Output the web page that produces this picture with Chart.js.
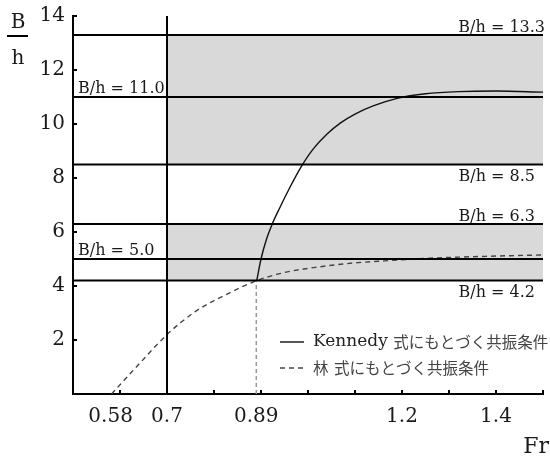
<!DOCTYPE html>
<html lang="ja">
<head>
<meta charset="UTF-8">
<title>共振条件</title>
<script src="https://cdn.jsdelivr.net/npm/chart.js"></script>
<style>
  html, body { margin: 0; padding: 0; background: #fff; }
</style>
</head>
<body>
<canvas id="chart" width="550" height="459"></canvas>
<script>
// 横軸 Fr の目盛
const frLabels = [0.58, 0.7, 0.89, 1.2, 1.4];
const frMinorTicks = [0.6, 0.7, 0.8, 0.9, 1.0, 1.1, 1.2, 1.3, 1.4, 1.5];
// 縦軸 B/h の目盛
const bhTicks = [2, 4, 6, 8, 10, 12, 14];

// B/h の水平線とラベル位置
const bhLevels = [13.3, 11.0, 8.5, 6.3, 5.0, 4.2];
const bhLevelText = ['B/h = 13.3', 'B/h = 11.0', 'B/h = 8.5', 'B/h = 6.3', 'B/h = 5.0', 'B/h = 4.2'];
const bhLevelSide = ['right-above', 'left-above', 'right-below', 'right-above', 'left-above', 'right-below'];

// 灰色の帯 (Fr = 0.7 から右側)
const bandFrom = 0.7;
const bandLow = [8.5, 4.2];
const bandHigh = [13.3, 6.3];

// Kennedy 式にもとづく共振条件
const kennedyFr = [0.891, 0.9, 0.912, 0.924, 0.94, 0.96, 0.985, 1.01, 1.04, 1.07, 1.1, 1.14, 1.19, 1.25, 1.32, 1.4, 1.5];
const kennedyBh = [4.2, 5.0, 5.75, 6.3, 6.9, 7.6, 8.4, 9.05, 9.62, 10.05, 10.37, 10.68, 10.95, 11.12, 11.2, 11.22, 11.18];

// 林 式にもとづく共振条件
const hayashiFr = [0.582, 0.64, 0.7, 0.76, 0.83, 0.891, 0.95, 1.02, 1.09, 1.18, 1.26, 1.38, 1.5];
const hayashiBh = [0, 1.1, 2.2, 3.05, 3.72, 4.2, 4.5, 4.7, 4.84, 4.95, 5.03, 5.1, 5.15];

// 補助線
const markFr = 0.89;
const markBh = 4.2;

const serif = '"DejaVu Serif", "Noto Sans CJK JP", serif';
const ink = '#1a1a1a';

function pts(xs, ys) {
  return xs.map((x, i) => ({ x: x, y: ys[i] }));
}

const datasets = [];
bhLevels.forEach(v => {
  datasets.push({
    data: [{ x: 0.5, y: v }, { x: 1.5, y: v }],
    borderColor: '#000', borderWidth: 2, pointRadius: 0
  });
});
datasets.push({
  data: [{ x: bandFrom, y: 0 }, { x: bandFrom, y: 14 }],
  borderColor: '#000', borderWidth: 2, pointRadius: 0
});
datasets.push({
  data: [{ x: markFr, y: 0 }, { x: markFr, y: markBh }],
  borderColor: '#999', borderWidth: 1.5, borderDash: [4, 3], pointRadius: 0
});
datasets.push({
  label: 'Kennedy 式にもとづく共振条件',
  data: pts(kennedyFr, kennedyBh),
  borderColor: '#111', borderWidth: 1.4, pointRadius: 0,
  cubicInterpolationMode: 'monotone'
});
datasets.push({
  label: '林 式にもとづく共振条件',
  data: pts(hayashiFr, hayashiBh),
  borderColor: '#444', borderWidth: 1.4, borderDash: [5, 4], pointRadius: 0,
  cubicInterpolationMode: 'monotone'
});

// 灰色の帯
const bandPlugin = {
  id: 'bands',
  beforeDatasetsDraw(chart) {
    const { ctx, scales: { x, y } } = chart;
    ctx.save();
    ctx.fillStyle = '#d9d9d9';
    bandLow.forEach((lo, i) => {
      const x0 = x.getPixelForValue(bandFrom);
      const x1 = x.getPixelForValue(x.max);
      const y0 = y.getPixelForValue(bandHigh[i]);
      const y1 = y.getPixelForValue(lo);
      ctx.fillRect(x0, y0, x1 - x0, y1 - y0);
    });
    ctx.restore();
  }
};

// 英数字は明朝風、和文は少し小さめで描く
function drawMixed(ctx, text, x, y) {
  const runs = text.match(/[\x00-\x7F]+|[^\x00-\x7F]+/g);
  runs.forEach(r => {
    const ascii = /^[\x00-\x7F]/.test(r);
    ctx.font = ascii ? '17px "DejaVu Serif", serif' : '15.5px "Noto Sans CJK JP", sans-serif';
    ctx.fillStyle = ascii ? '#222' : '#444';
    ctx.fillText(r, x, y);
    x += ctx.measureText(r).width;
  });
}

// 内向きの目盛、ラベル、軸タイトル、凡例
const decoPlugin = {
  id: 'deco',
  afterDraw(chart) {
    const { ctx, scales: { x, y } } = chart;
    ctx.save();
    ctx.strokeStyle = '#000';
    ctx.lineWidth = 2;
    ctx.beginPath();
    frMinorTicks.forEach(v => {
      const px = x.getPixelForValue(v);
      ctx.moveTo(px, y.bottom);
      ctx.lineTo(px, y.bottom - 4);
    });
    bhTicks.forEach(v => {
      const py = y.getPixelForValue(v);
      ctx.moveTo(x.left, py);
      ctx.lineTo(x.left + 4, py);
    });
    ctx.stroke();

    // B/h = ... のラベル
    ctx.fillStyle = ink;
    ctx.font = '16px ' + serif;
    ctx.textBaseline = 'alphabetic';
    bhLevels.forEach((v, i) => {
      const py = y.getPixelForValue(v);
      const side = bhLevelSide[i];
      if (side === 'left-above') {
        ctx.textAlign = 'left';
        ctx.fillText(bhLevelText[i], x.left + 5, py - 4);
      } else if (side === 'right-above') {
        ctx.textAlign = 'right';
        ctx.fillText(bhLevelText[i], v > 13 ? x.right + 2 : x.right - 8, py - 3);
      } else {
        ctx.textAlign = 'right';
        ctx.fillText(bhLevelText[i], x.right - 8, py + 16);
      }
    });

    // 縦軸タイトル B/h
    ctx.font = '20px ' + serif;
    ctx.textAlign = 'center';
    ctx.fillText('B', 18, 28);
    ctx.fillText('h', 18, 64);
    ctx.beginPath();
    ctx.moveTo(7, 36);
    ctx.lineTo(28, 36);
    ctx.stroke();

    // 横軸タイトル Fr
    ctx.font = '22px ' + serif;
    ctx.textAlign = 'right';
    ctx.fillText('Fr', 549, 453);

    // 凡例
    const items = chart.data.datasets.filter(d => d.label);
    ctx.textAlign = 'left';
    ctx.textBaseline = 'middle';
    items.forEach((d, i) => {
      const ly = 342 + i * 26;
      ctx.strokeStyle = d.borderColor;
      ctx.lineWidth = 1.4;
      ctx.setLineDash(d.borderDash || []);
      ctx.beginPath();
      ctx.moveTo(280, ly);
      ctx.lineTo(304, ly);
      ctx.stroke();
      ctx.setLineDash([]);
      drawMixed(ctx, d.label, 313, ly);
    });
    ctx.restore();
  }
};

new Chart(document.getElementById('chart'), {
  type: 'line',
  data: { datasets: datasets },
  plugins: [bandPlugin, decoPlugin],
  options: {
    responsive: false,
    animation: false,
    devicePixelRatio: 1,
    layout: { padding: { top: 16, right: 7, left: 0, bottom: 0 } },
    plugins: { legend: { display: false }, tooltip: { enabled: false } },
    scales: {
      x: {
        type: 'linear',
        min: 0.5,
        max: 1.5,
        afterBuildTicks: scale => { scale.ticks = frLabels.map(v => ({ value: v })); },
        afterFit: scale => {
          scale.height = 65;
          scale.paddingLeft = 0;
          scale.paddingRight = 0;
        },
        ticks: {
          autoSkip: false,
          maxRotation: 0,
          padding: 11,
          color: ink,
          font: { family: serif, size: 20 },
          callback: v => String(v)
        },
        grid: { drawOnChartArea: false, drawTicks: false },
        border: { display: true, color: '#000', width: 2 }
      },
      y: {
        min: 0,
        max: 14,
        afterBuildTicks: scale => { scale.ticks = bhTicks.map(v => ({ value: v })); },
        afterFit: scale => {
          scale.width = 73;
          scale.paddingTop = 0;
          scale.paddingBottom = 0;
        },
        ticks: {
          padding: 8,
          color: ink,
          font: { family: serif, size: 20 }
        },
        grid: { drawOnChartArea: false, drawTicks: false },
        border: { display: true, color: '#000', width: 2 }
      }
    }
  }
});
</script>
</body>
</html>
